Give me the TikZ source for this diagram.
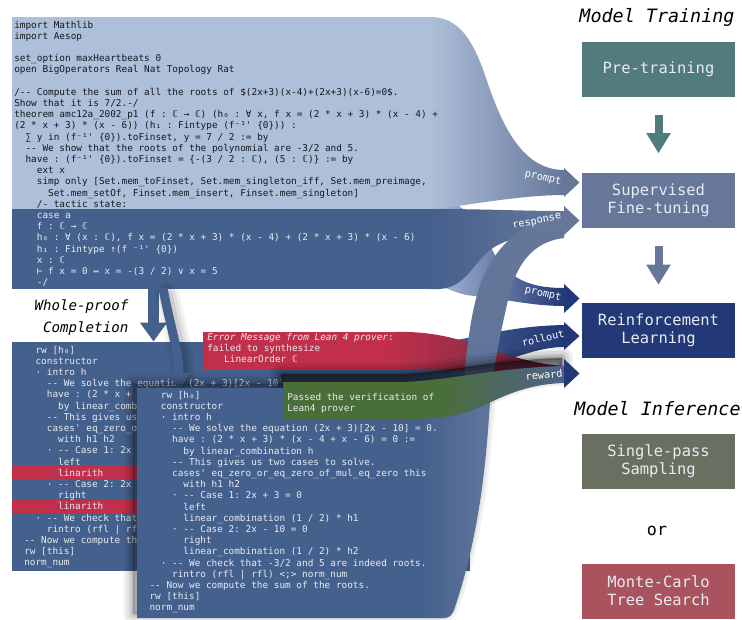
\documentclass[tikz,border=0pt]{standalone}
\usepackage{fontspec}
\setmonofont{DejaVu Sans Mono}
\usetikzlibrary{arrows.meta,calc}
\definecolor{lightc}{HTML}{ADBFD9}
\definecolor{codedark}{HTML}{44608C}
\definecolor{frontlight}{HTML}{5C739A}
\definecolor{sftc}{HTML}{667799}
\definecolor{navyc}{HTML}{233876}
\definecolor{ptc}{HTML}{527B7B}
\definecolor{spc}{HTML}{697061}
\definecolor{mctsc}{HTML}{A9535E}
\definecolor{errc}{HTML}{C1304A}
\definecolor{errdark}{HTML}{6A2A48}
\definecolor{okc}{HTML}{4A6E38}
\definecolor{rewc}{HTML}{4E6288}
\definecolor{txtlight}{HTML}{E8ECF2}
\definecolor{txtdark}{HTML}{16181E}
\pgfdeclarehorizontalshading{redsh}{100bp}{color(0bp)=(errc); color(50bp)=(errc); color(75bp)=(errdark); color(100bp)=(errdark)}
\pgfdeclarehorizontalshading{greensh}{100bp}{color(0bp)=(okc); color(52bp)=(okc); color(75bp)=(rewc); color(100bp)=(rewc)}
\pgfdeclarehorizontalshading{frontsh}{100bp}{color(0bp)=(codedark); color(65bp)=(codedark); color(73bp)=(frontlight); color(100bp)=(frontlight)}
\newcommand\cl[1]{\hbox{#1}}
\newcommand\idt[1]{\hphantom{#1}}
\tikzset{
  code/.style={font=\ttfamily\fontsize{7.04}{8.4}\selectfont, inner sep=0pt, anchor=base west},
  stagebox/.style={minimum width=114.75pt, minimum height=41.25pt, inner sep=0pt, align=center, text=txtlight, font=\ttfamily\fontsize{11.6}{13.7}\selectfont},
  titletext/.style={font=\ttfamily\itshape\fontsize{13.8}{16}\selectfont, anchor=base, text=black},
  flowlabel/.style={font=\ttfamily\fontsize{7.7}{9}\selectfont, text=white, inner sep=0pt},
  fatarrow/.style={line width=6pt, -{Triangle[width=17.25pt,length=15pt]}},
  frontshape/.style={insert path={(137,388) -- (492,388) -- (490,400) .. controls (486,470) and (478,540) .. (454,610) .. controls (452,615) and (449,618) .. (444,618) -- (137,618) -- cycle}},
  greenshape/.style={insert path={(283,382) -- (400,382) .. controls (450,381) and (490,368) .. (564,366) -- (564,383) .. controls (525,384) and (500,398) .. (480,407) .. controls (460,416) and (440,419) .. (400,419) -- (283,419) -- cycle}},
}
\begin{document}
\begin{tikzpicture}[x=0.75pt,y=-0.75pt]
\useasboundingbox (0,0) rectangle (742,619);
% ribbon to RL prompt
\shade[left color=lightc, right color=navyc] (430,198) .. controls (472,200) and (482,232) .. (495,255) .. controls (510,279) and (530,288) .. (564,288) -- (564,306) .. controls (530,306) and (500,298) .. (475,296) .. controls (460,295) and (452,290) .. (445,288) -- (430,288) -- cycle;
% ribbon to SFT prompt
\shade[left color=lightc, right color=sftc] (430,17) .. controls (458,17) and (472,38) .. (485,75) .. controls (500,120) and (520,170) .. (564,170) -- (564,195) .. controls (525,195) and (480,203) .. (430,210) -- cycle;
% top light box
\fill[lightc] (12,17) rectangle (430.5,210);
% dark ribbon to response
\shade[left color=codedark, right color=sftc] (430,209) .. controls (490,209) and (520,211) .. (564,211) -- (564,233) .. controls (532,233) and (506,238) .. (490,250) .. controls (474,262) and (466,287) .. (440,289) -- (430,289) -- cycle;
\node[fill=codedark, inner sep=0pt, minimum width=313.875pt, minimum height=60pt, anchor=north west] (tacticbox) at (12,209) {};
\node[code, text=txtdark] (topcode) at (14,28) {\vtop{%
\cl{import Mathlib}%
\cl{import Aesop}%
\cl{}%
\cl{set\_option maxHeartbeats 0}%
\cl{open BigOperators Real Nat Topology Rat}%
\cl{}%
\cl{/-- Compute the sum of all the roots of \$(2x+3)(x-4)+(2x+3)(x-6)=0\$.}%
\cl{Show that it is 7/2.-/}%
\cl{theorem amc12a\_2002\_p1 (f : ℂ → ℂ) (h₀ : ∀ x, f x = (2 * x + 3) * (x - 4) +}%
\cl{(2 * x + 3) * (x - 6)) (h₁ : Fintype (f⁻¹' \{0\})) :}%
\cl{\idt{xx}∑ y in (f⁻¹' \{0\}).toFinset, y = 7 / 2 := by}%
\cl{\idt{xx}-- We show that the roots of the polynomial are -3/2 and 5.}%
\cl{\idt{xx}have : (f⁻¹' \{0\}).toFinset = \{-(3 / 2 : ℂ), (5 : ℂ)\} := by}%
\cl{\idt{xxxx}ext x}%
\cl{\idt{xxxx}simp only [Set.mem\_toFinset, Set.mem\_singleton\_iff, Set.mem\_preimage,}%
\cl{\idt{xxxxxx}Set.mem\_setOf, Finset.mem\_insert, Finset.mem\_singleton]}%
\cl{\idt{xxxx}/- tactic state:}%
}};
\node[code, text=txtlight] (tactic) at (14,218.4) {\vtop{%
\cl{\idt{xxxx}case a}%
\cl{\idt{xxxx}f : ℂ → ℂ}%
\cl{\idt{xxxx}h₀ : ∀ (x : ℂ), f x = (2 * x + 3) * (x - 4) + (2 * x + 3) * (x - 6)}%
\cl{\idt{xxxx}h₁ : Fintype ↑(f ⁻¹' \{0\})}%
\cl{\idt{xxxx}x : ℂ}%
\cl{\idt{xxxx}⊢ f x = 0 ↔ x = -(3 / 2) ∨ x = 5}%
\cl{\idt{xxxx}-/}%
}};
% SFT arrowheads
\fill[sftc] (564,168) -- (579.5,182.5) -- (564,197) -- cycle;
\fill[sftc] (564,206) -- (579.5,220.5) -- (564,235) -- cycle;
% back box
\node[fill=codedark, inner sep=0pt, minimum width=343.5pt, minimum height=171.75pt, anchor=north west] (backbox) at (12,342) {};
\draw[codedark, line width=8.25pt, -{Triangle[width=19.5pt,length=14.25pt]}] ($(tacticbox.south west)+(141.5,-1)$) -- ($(backbox.north west)+(141.5,-0.5)$);
\fill[errc] (12,466) rectangle (470,479.3);
\fill[errc] (12,499.5) rectangle (470,512.7);
\node[code, text=txtlight] (backcode) at (24,353) {\vtop{%
\cl{\idt{xx}rw [h₀]}%
\cl{\idt{xx}constructor}%
\cl{\idt{xx}· intro h}%
\cl{\idt{xxxx}-- We solve the equation (2x + 3)[2x - 10]}%
\cl{\idt{xxxx}have : (2 * x +}%
\cl{\idt{xxxxxx}by linear\_comb}%
\cl{\idt{xxxx}-- This gives us}%
\cl{\idt{xxxx}cases' eq\_zero\_o}%
\cl{\idt{xxxxxx}with h1 h2}%
\cl{\idt{xxxx}· -- Case 1: 2x}%
\cl{\idt{xxxxxx}left}%
\cl{\idt{xxxxxx}linarith}%
\cl{\idt{xxxx}· -- Case 2: 2x}%
\cl{\idt{xxxxxx}right}%
\cl{\idt{xxxxxx}linarith}%
\cl{\idt{xx}· -- We check that}%
\cl{\idt{xxxx}rintro (rfl | rf}%
\cl{-- Now we compute th}%
\cl{rw [this]}%
\cl{norm\_num}%
}};
% rollout ribbon
\shade[left color=codedark, right color=navyc] (440,342) .. controls (470,340) and (505,326) .. (564,325) -- (564,347) .. controls (525,347) and (495,372) .. (440,372) -- cycle;
% error box and ribbon
\shade[shading=redsh] (203,332) -- (395,332) .. controls (430,331) and (455,338) .. (480,346) .. controls (510,356) and (535,364) .. (564,366) -- (564,380) .. controls (530,380) and (500,374) .. (470,371) .. controls (440,369) and (420,369) .. (395,369) -- (203,369) -- cycle;
\node[code, text=txtlight] (errtext) at (207,340) {\vtop{%
\cl{\itshape Error Message from Lean 4 prover\upshape:}%
\cl{failed to synthesize}%
\cl{\idt{xxx}LinearOrder ℂ}%
}};
% curved arrow with shadow
\begin{scope}[shift={(4,2)}]
\foreach \w/\o in {18/0.05,13/0.07,8/0.09}
  \draw[black,opacity=\o,line width=\w pt,line cap=round] (163,292) .. controls (170,325) and (179,352) .. (179,378);
\end{scope}
\draw[codedark, line width=6.75pt, -{Triangle[width=16.5pt,length=12pt]}] ($(tacticbox.south west)+(151,-1)$) .. controls (170,325) and (179,352) .. (179,389);
% grey ribbon from completed proof to response
\shade[top color=sftc, bottom color=frontlight] (462,420) -- (462,400) .. controls (466,355) and (470,315) .. (480,285) .. controls (495,245) and (525,218) .. (564,216) -- (564,238) .. controls (530,242) and (515,268) .. (508,300) .. controls (500,335) and (494,365) .. (490,400) -- (488,420) -- cycle;
% shadows
\begin{scope}[shift={(-4,-4)}]
\foreach \w/\o in {14/0.05,10/0.06,6/0.08,2.5/0.1}
  \draw[black,opacity=\o,line width=\w pt,line join=round,frontshape];
\fill[black,opacity=0.2,frontshape];
\end{scope}
\begin{scope}[shift={(-2,-8)}]
\foreach \w/\o in {16/0.07,11/0.09,6/0.12,2.5/0.15}
  \draw[black,opacity=\o,line width=\w pt,line join=round,greenshape];
\fill[black,opacity=0.45,greenshape];
\end{scope}
% front box
\shade[shading=frontsh,frontshape];
\node[code, text=txtlight] (frontcode) at (149.3,398) {\vtop{%
\cl{\idt{xx}rw [h₀]}%
\cl{\idt{xx}constructor}%
\cl{\idt{xx}· intro h}%
\cl{\idt{xxxx}-- We solve the equation (2x + 3)[2x - 10] = 0.}%
\cl{\idt{xxxx}have : (2 * x + 3) * (x - 4 + x - 6) = 0 :=}%
\cl{\idt{xxxxxx}by linear\_combination h}%
\cl{\idt{xxxx}-- This gives us two cases to solve.}%
\cl{\idt{xxxx}cases' eq\_zero\_or\_eq\_zero\_of\_mul\_eq\_zero this}%
\cl{\idt{xxxxxx}with h1 h2}%
\cl{\idt{xxxx}· -- Case 1: 2x + 3 = 0}%
\cl{\idt{xxxxxx}left}%
\cl{\idt{xxxxxx}linear\_combination (1 / 2) * h1}%
\cl{\idt{xxxx}· -- Case 2: 2x - 10 = 0}%
\cl{\idt{xxxxxx}right}%
\cl{\idt{xxxxxx}linear\_combination (1 / 2) * h2}%
\cl{\idt{xx}· -- We check that -3/2 and 5 are indeed roots.}%
\cl{\idt{xxxx}rintro (rfl | rfl) <;> norm\_num}%
\cl{-- Now we compute the sum of the roots.}%
\cl{rw [this]}%
\cl{norm\_num}%
}};
% verification box and ribbon
\shade[shading=greensh,greenshape];
\node[code, text=txtlight] (oktext) at (287,400) {\vtop{%
\cl{Passed the verification of}%
\cl{Lean4 prover}%
}};
% RL arrowheads
\fill[navyc] (564,284) -- (579.5,298.5) -- (564,313) -- cycle;
\fill[navyc] (564,322) -- (579.5,336) -- (564,350) -- cycle;
\fill[navyc] (564,359) -- (579.5,373.5) -- (564,388) -- cycle;
% flow labels
\node[flowlabel, rotate=-13] (lblpa) at (543,178) {prompt};
\node[flowlabel, rotate=12] (lblre) at (537,222) {response};
\node[flowlabel, rotate=-13] (lblpb) at (543,294) {prompt};
\node[flowlabel, rotate=13] (lblro) at (543,338) {rollout};
\node[flowlabel, rotate=5] (lblrw) at (544,375) {reward};
% right column
\node[titletext] (ttrain) at (657,22) {Model Training};
\node[stagebox, fill=ptc] (pretrain) at (658.5,69.5) {Pre-training};
\node[stagebox, fill=sftc] (sft) at (658.5,200) {Supervised\\Fine-tuning};
\node[stagebox, fill=navyc] (rl) at (658.5,330.5) {Reinforcement\\Learning};
\node[titletext] (tinfer) at (657.5,415) {Model Inference};
\node[stagebox, fill=spc] (single) at (658.5,461) {Single-pass\\Sampling};
\node[font=\ttfamily\fontsize{12.5}{14}\selectfont, anchor=base] (ortext) at (657,535) {or};
\node[stagebox, fill=mctsc] (mcts) at (658.5,591) {Monte-Carlo\\Tree Search};
\draw[fatarrow, ptc] ([yshift=-13.5pt]pretrain.south) -- ([yshift=14.25pt]sft.north);
\draw[fatarrow, sftc] ([yshift=-13.5pt]sft.south) -- ([yshift=13.5pt]rl.north);
% whole-proof completion label
\node[font=\ttfamily\itshape\fontsize{10.6}{12}\selectfont, anchor=base east] (wpa) at (133,310) {Whole-proof};
\node[font=\ttfamily\itshape\fontsize{10.6}{12}\selectfont, anchor=base east] (wpb) at (133,332) {Completion};
\end{tikzpicture}
\end{document}
